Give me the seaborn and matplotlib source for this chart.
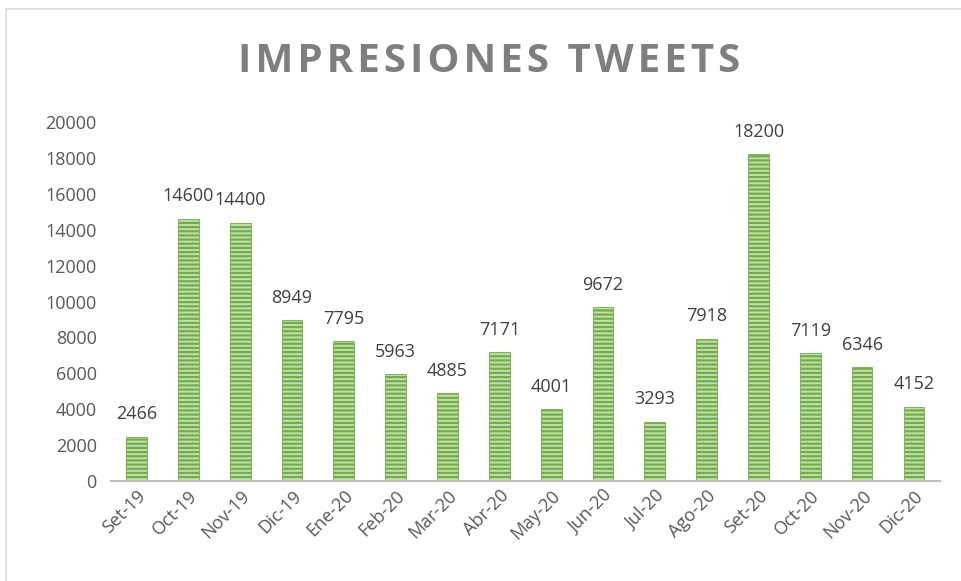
import pandas as pd
import matplotlib.pyplot as plt
import seaborn as sns

months = ['Set-19', 'Oct-19', 'Nov-19', 'Dic-19', 'Ene-20', 'Feb-20', 'Mar-20', 'Abr-20',
          'May-20', 'Jun-20', 'Jul-20', 'Ago-20', 'Set-20', 'Oct-20', 'Nov-20', 'Dic-20']
impresiones = [2466, 14600, 14400, 8949, 7795, 5963, 4885, 7171,
               4001, 9672, 3293, 7918, 18200, 7119, 6346, 4152]

df = pd.DataFrame({'mes': months, 'impresiones': impresiones})

sns.set_style('white')
plt.rcParams['font.family'] = ['Open Sans', 'DejaVu Sans']
plt.rcParams['hatch.linewidth'] = 1.6

fig = plt.figure(figsize=(9.62, 5.81), dpi=100)
ax = fig.add_axes([0.115, 0.172, 0.862, 0.618])

sns.barplot(data=df, x='mes', y='impresiones', color='#c5e3ae', width=0.4, ax=ax,
            edgecolor='#6fb043', linewidth=0.6)
for p in ax.patches:
    p.set_hatch('----')

for i, v in enumerate(impresiones):
    ax.text(i, v + 750, str(v), ha='center', va='bottom', fontsize=13, color='#404040')

ax.set_ylim(0, 20000)
ax.set_yticks(range(0, 20001, 2000))
ax.set_xlim(-0.5, len(months) - 0.5)
ax.set_xlabel('')
ax.set_ylabel('')
ax.tick_params(axis='y', length=0, labelsize=13, labelcolor='#595959', pad=10)
ax.tick_params(axis='x', which='major', length=0, labelsize=13, labelcolor='#595959', pad=4)
ax.set_xticks([i + 0.5 for i in range(-1, len(months))], minor=True)
ax.tick_params(axis='x', which='minor', length=6, width=1.5, color='#bfbfbf')
plt.setp(ax.get_xticklabels(), rotation=45, ha='right', rotation_mode='anchor')

for s in ['top', 'right', 'left']:
    ax.spines[s].set_visible(False)
ax.spines['bottom'].set_color('#bfbfbf')
ax.spines['bottom'].set_linewidth(1.5)

title = '\u200a'.join('IMPRESIONES TWEETS')
fig.text(0.508, 0.895, title, ha='center', va='center', fontsize=29,
         fontweight='bold', color='#7f7f7f', family=['Open Sans', 'DejaVu Sans'])

# chart frame
fig.patches.append(plt.Rectangle((0.006, -0.01), 1.0, 0.995, transform=fig.transFigure,
                                 fill=False, edgecolor='#d9d9d9', linewidth=1.2))

fig.savefig('out.png', dpi=100)
